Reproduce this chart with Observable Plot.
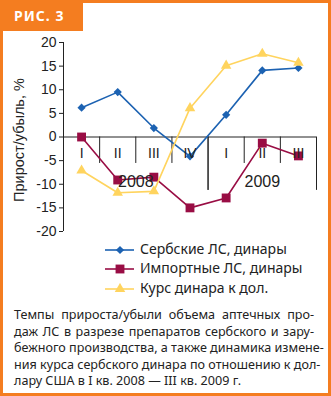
<!DOCTYPE html>
<html><head><meta charset="utf-8">
<script src="https://cdn.jsdelivr.net/npm/d3@7"></script>
<script src="https://cdn.jsdelivr.net/npm/@observablehq/plot@0.6"></script>
<style>
html,body{margin:0;padding:0;background:#fff;}
#root{position:relative;width:331px;height:396px;background:#f47d20;overflow:hidden;}
#panel{position:absolute;left:3px;top:3px;width:325px;height:390px;background:#fff;}
#tab{position:absolute;left:0;top:0;width:83px;height:31px;background:#f47d20;}
#tab span{position:absolute;left:14px;top:6px;color:#fff;font:bold 14px "Noto Sans",sans-serif;letter-spacing:1px;}
#chart{position:absolute;left:0;top:0;}
#legend{position:absolute;left:105px;top:240px;font:14px "Noto Sans",sans-serif;color:#222;}
.row{position:absolute;left:0;height:20px;white-space:nowrap;}
.row svg{position:absolute;left:0;top:4px;}
.row span{position:absolute;left:35px;top:0;line-height:18px;}
#caption{position:absolute;left:14px;top:307px;width:300px;font:12.6px "Noto Sans",sans-serif;color:#222;line-height:16.5px;}
#caption div{text-align:justify;text-align-last:justify;white-space:nowrap;}
#caption div.last{text-align-last:left;}
</style>
</head><body>
<div id="root"><div id="panel"></div><div id="tab"><span>РИС. 3</span></div><div id="chart"></div><div id="legend"></div><div id="caption"></div></div>
<script>
const quarters = ["I","II","III","IV","I","II","III"];
const years = ["2008","2009"];
const yearSpans = [[0,4],[4,7]];
const serbian = [6.2, 9.5, 1.9, -4.1, 4.7, 14.1, 14.6];
const imported = [0, -9.1, -8.5, -15.0, -12.9, -1.3, -4.0];
const rate = [-7.1, -11.8, -11.5, 6.1, 15.1, 17.6, 15.7];
const yTicks = [20,15,10,5,0,-5,-10,-15,-20];
const seriesNames = ["Сербские ЛС, динары","Импортные ЛС, динары","Курс динара к дол."];
const yLabel = "Прирост/убыль, %";
const captionLines = [
  "Темпы прироста/убыли объема аптечных про-",
  "даж ЛС в разрезе препаратов сербского и зару-",
  "бежного производства, а также динамика измене-",
  "ния курса сербского динара по отношению к дол-",
  "лару США в I кв. 2008 — III кв. 2009 г."
];

const colors = ["#1c62b2","#990d44","#ffd45e"];
const symbols = ["diamond2","square","triangle"];
const radii = [3.7,5,3.9];
const allSeries = [serbian, imported, rate];

const rows = [];
allSeries.forEach((vals, s) => vals.forEach((v, i) => rows.push({s, i: i + 0.5, v})));

const font = '"Liberation Sans", Arial, sans-serif';
const marks = [
  Plot.ruleY([0], {x1: 0, x2: 7, stroke: "#222"}),
  Plot.ruleX(quarters.map((q, i) => i).filter(i => i > 0 && !yearSpans.some(sp => sp[0] === i)), {y1: 0, y2: -5.6, stroke: "#222"}),
  Plot.ruleX(yearSpans.map(sp => sp[1]).concat(yearSpans.map(sp => sp[0]).filter(v => v > 0)), {y1: 0, y2: -11.3, stroke: "#222"}),
  Plot.ruleX([0], {y1: -20, y2: 20, stroke: "#222"}),
  Plot.axisY(yTicks, {label: null, tickSize: 4, tickPadding: 3, tickFormat: d => String(d), fontSize: 14, fontFamily: font, stroke: "#222", fill: "#222"}),
];
allSeries.forEach((vals, s) => {
  const data = rows.filter(r => r.s === s);
  marks.push(Plot.line(data, {x: "i", y: "v", stroke: colors[s], strokeWidth: 1.6}));
  marks.push(Plot.dot(data, {x: "i", y: "v", symbol: () => symbols[s], r: radii[s], fill: colors[s], stroke: "none"}));
});
marks.push(Plot.text(quarters.map((q, i) => ({q, i: i + 0.5})), {x: "i", y: () => 0, text: "q", dy: 17, fontSize: 14, fontFamily: font, fill: "#222"}));
marks.push(Plot.text(years.map((y, k) => ({y, c: (yearSpans[k][0] + yearSpans[k][1]) / 2})), {x: "c", y: () => 0, text: "y", dy: 45, fontSize: 16, fontFamily: font, fill: "#222"}));
marks.push(Plot.text([yLabel], {text: d => d, frameAnchor: "left", textAnchor: "middle", rotate: -90, dx: -44, dy: 3, fontSize: 14.5, fontFamily: font, fill: "#222"}));

const chart = Plot.plot({
  width: 331, height: 240,
  marginLeft: 63, marginRight: 15, marginTop: 42, marginBottom: 9,
  x: {domain: [0, 7], axis: null},
  y: {domain: [-20, 20], axis: null},
  symbol: {type: "identity"},
  style: {background: "transparent", overflow: "visible", fontFamily: font},
  marks
});
document.getElementById("chart").appendChild(chart);

// legend
const legend = document.getElementById("legend");
const rowTops = [0, 19, 39];
seriesNames.forEach((name, s) => {
  const row = document.createElement("div");
  row.className = "row";
  row.style.top = rowTops[s] + "px";
  const svg = d3.create("svg").attr("width", 30).attr("height", 12);
  svg.append("line").attr("x1", 0).attr("x2", 29).attr("y1", 6).attr("y2", 6).attr("stroke", colors[s]).attr("stroke-width", 1.6);
  const sym = {diamond2: d3.symbolDiamond2, square: d3.symbolSquare, triangle: d3.symbolTriangle}[symbols[s]];
  svg.append("path").attr("transform", "translate(15,6)").attr("fill", colors[s]).attr("d", d3.symbol(sym, radii[s] * radii[s] * Math.PI)());
  row.appendChild(svg.node());
  const sp = document.createElement("span");
  sp.textContent = name;
  row.appendChild(sp);
  legend.appendChild(row);
});

const cap = document.getElementById("caption");
captionLines.forEach((t, k) => {
  const d = document.createElement("div");
  d.textContent = t;
  if (k === captionLines.length - 1) d.className = "last";
  cap.appendChild(d);
});
</script>
</body></html>
